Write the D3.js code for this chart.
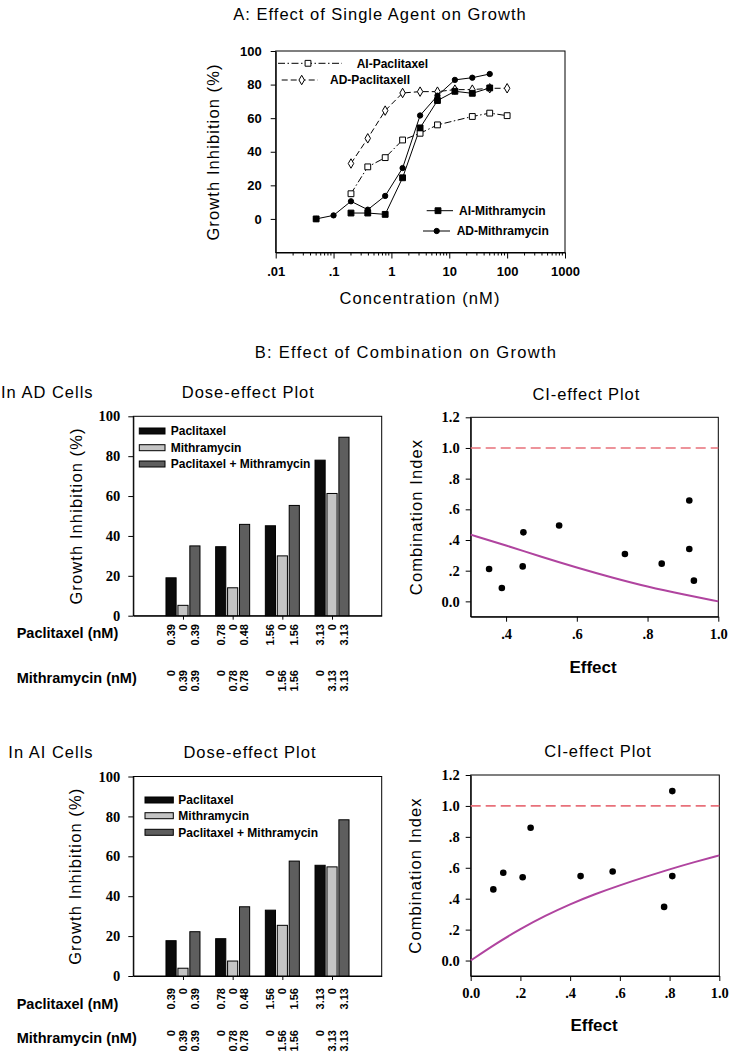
<!DOCTYPE html>
<html><head><meta charset="utf-8">
<script src="https://cdn.jsdelivr.net/npm/d3@7"></script>
<style>
body{margin:0;background:#fff;}
svg{display:block;}
</style></head><body>
<svg id="c" width="729" height="1054"></svg>
<script>
// ---------------- DATA ----------------
// Panel A: single agent (concentration nM -> growth inhibition %)
const concAIPac = [0.2, 0.39, 0.78, 1.56, 3.13, 6.25, 25, 50, 100];
const valAIPac  = [15, 31, 36.5, 47, 51, 56, 61, 63, 61.5];
const concADPac = [0.2, 0.39, 0.78, 1.56, 3.13, 6.25, 12.5, 25, 50, 100];
const valADPac  = [33, 48, 64.5, 75, 75.8, 75.8, 77, 77, 77.8, 77.8];
const concAIMit = [0.05, 0.1, 0.2, 0.39, 0.78, 1.56, 3.13, 6.25, 12.5, 25, 50];
const valAIMit  = [0, null, 3.5, 3.5, 2.7, 24.5, 54.2, 70.5, 76, 74.8, 78];
const concADMit = [0.05, 0.1, 0.2, 0.39, 0.78, 1.56, 3.13, 6.25, 12.5, 25, 50];
const valADMit  = [0, 2.1, 10.5, 5.5, 13.7, 30.3, 61.6, 73.4, 82.8, 84.1, 86.3];
const yTicksA = [0, 20, 40, 60, 80, 100];
const xTicksA = [0.01, 0.1, 1, 10, 100, 1000];
const xTickLabelsA = [".01", ".1", "1", "10", "100", "1000"];

// Panel B: combination dose-effect bars
const groups = ["g1", "g2", "g3", "g4"];
const seriesNames = ["Paclitaxel", "Mithramycin", "Paclitaxel + Mithramycin"];
const adPac   = [19, 34.6, 45.1, 78];
const adMit   = [5.2, 14, 30, 61.3];
const adCombo = [35, 45.8, 55.3, 89.5];
const aiPac   = [17.7, 18.7, 33, 55.5];
const aiMit   = [3.9, 7.5, 25.4, 54.7];
const aiCombo = [22.2, 34.7, 57.6, 78.3];
const pacDoseLabels = [["0.39","0","0.39"],["0.78","0","0.48"],["1.56","0","1.56"],["3.13","0","3.13"]];
const mitDoseLabels = [["0","0.39","0.39"],["0","0.78","0.78"],["0","1.56","1.56"],["0","3.13","3.13"]];
const yTicksDose = [0, 20, 40, 60, 80, 100];

// CI-effect data
const adEffect = [0.352, 0.388, 0.449, 0.447, 0.55, 0.736, 0.84, 0.918, 0.931, 0.918];
const adCI     = [0.211, 0.087, 0.45, 0.228, 0.495, 0.309, 0.246, 0.341, 0.135, 0.658];
const adCurveEffect = [0.3, 0.4, 0.5, 0.6, 0.7, 0.8, 0.9, 1.0];
const adCurveCI     = [0.435, 0.365, 0.29, 0.22, 0.155, 0.095, 0.045, 0.0];
const aiEffect = [0.091, 0.131, 0.209, 0.241, 0.442, 0.571, 0.778, 0.811, 0.811];
const aiCI     = [0.46, 0.568, 0.539, 0.859, 0.546, 0.576, 0.347, 0.546, 1.096];
const aiCurveEffect = [0, 0.1, 0.2, 0.3, 0.4, 0.5, 0.6, 0.7, 0.8, 0.9, 1.0];
const aiCurveCI     = [0, 0.108, 0.205, 0.29, 0.365, 0.43, 0.487, 0.54, 0.59, 0.637, 0.68];
const ciYTicks = [0, 0.2, 0.4, 0.6, 0.8, 1.0, 1.2];
const ciYTickLabels = ["0.0", ".2", ".4", ".6", ".8", "1.0", "1.2"];
const adXTicks = [0.4, 0.6, 0.8, 1.0];
const adXTickLabels = [".4", ".6", ".8", "1.0"];
const aiXTicks = [0, 0.2, 0.4, 0.6, 0.8, 1.0];
const aiXTickLabels = ["0.0", ".2", ".4", ".6", ".8", "1.0"];

// ---------------- DRAWING ----------------
const svg = d3.select("#c");
const SANS = "'Liberation Sans', Arial, sans-serif";
const SERIF = "'Liberation Serif', 'Times New Roman', serif";

function addText(g, x, y, str, o = {}) {
  const t = g.append("text")
    .attr("transform", `translate(${x},${y})` + (o.rotate ? ` rotate(${o.rotate})` : ""))
    .attr("font-size", o.size || 12)
    .attr("font-weight", o.weight || "normal")
    .attr("font-family", o.family || SANS)
    .attr("text-anchor", o.anchor || "start")
    .attr("fill", "#000")
    .text(str);
  if (o.ls) t.attr("letter-spacing", o.ls);
  if (o.dy) t.attr("dy", o.dy);
  return t;
}
function frame(g, x0, x1, y0, y1) {
  g.append("rect").attr("x", x0).attr("y", y0).attr("width", x1 - x0).attr("height", y1 - y0)
    .attr("fill", "none").attr("stroke", "#000").attr("stroke-width", 1);
}
function styleAxis(sel, family, size) {
  sel.select(".domain").attr("stroke", "#000");
  sel.selectAll(".tick line").attr("stroke", "#000");
  sel.selectAll(".tick text").attr("font-family", family).attr("font-size", size)
    .attr("font-weight", "bold").attr("fill", "#000");
}

// ===== Panel A =====
(function () {
  const g = svg.append("g");
  const x = d3.scaleLog().domain([0.01, 1000]).range([275.7, 565]);
  const y = d3.scaleLinear().domain([-20, 100]).range([252.5, 51]);
  frame(g, x.range()[0], x.range()[1], y.range()[1], y.range()[0]);

  const ya = g.append("g").attr("transform", `translate(${x.range()[0]},0)`)
    .call(d3.axisLeft(y).tickValues(yTicksA).tickSize(5).tickSizeOuter(0).tickPadding(9));
  styleAxis(ya, SANS, 13);

  const xa = g.append("g").attr("transform", `translate(0,${y.range()[0]})`)
    .call(d3.axisBottom(x).tickValues(xTicksA).tickSize(6).tickSizeOuter(0).tickPadding(8)
      .tickFormat((d, i) => xTickLabelsA[i]));
  styleAxis(xa, SANS, 13);
  const minor = x.ticks().filter(v => Math.abs(Math.log10(v) - Math.round(Math.log10(v))) > 1e-6);
  g.append("g").selectAll("line").data(minor).join("line")
    .attr("x1", d => x(d)).attr("x2", d => x(d))
    .attr("y1", y.range()[0]).attr("y2", y.range()[0] + 3).attr("stroke", "#000");

  const series = [
    { c: concAIPac, v: valAIPac, dash: "7,2.5,1.5,2.5", sym: "sq", fill: "#fff" },
    { c: concADPac, v: valADPac, dash: "6,3", sym: "dia", fill: "#fff" },
    { c: concAIMit, v: valAIMit, dash: null, sym: "sq", fill: "#000" },
    { c: concADMit, v: valADMit, dash: null, sym: "circ", fill: "#000" }
  ];
  function marker(sel, s) {
    if (s.sym === "sq") return sel.append("path").attr("d", d3.symbol(d3.symbolSquare, 34)());
    if (s.sym === "dia") return sel.append("path").attr("d", d3.symbol(d3.symbolDiamond, 26)());
    return sel.append("path").attr("d", d3.symbol(d3.symbolCircle, 22)());
  }
  series.forEach(s => {
    const pts = s.c.map((c, i) => ({ c, v: s.v[i] }));
    const line = d3.line().defined(d => d.v !== null).x(d => x(d.c)).y(d => y(d.v));
    g.append("path").datum(pts).attr("d", line).attr("fill", "none").attr("stroke", "#000")
      .attr("stroke-width", 1).attr("stroke-dasharray", s.dash);
  });
  series.forEach(s => {
    s.c.forEach((c, i) => {
      if (s.v[i] === null) return;
      const mg = g.append("g").attr("transform", `translate(${x(c)},${y(s.v[i])})`);
      marker(mg, s).attr("fill", s.fill).attr("stroke", "#000").attr("stroke-width", 1);
    });
  });

  // legends
  const legs = [
    { s: series[0], x0: 278, x1: 342, mx: 308, y: 63.3, tx: 356.7, label: "AI-Paclitaxel" },
    { s: series[1], x0: 281.7, x1: 318, mx: 301.7, y: 80, tx: 330, label: "AD-Paclitaxell" },
    { s: series[2], x0: 426.7, x1: 453, mx: 438, y: 210.7, tx: 459, label: "AI-Mithramycin" },
    { s: series[3], x0: 423, x1: 450, mx: 436.7, y: 231, tx: 456.7, label: "AD-Mithramycin" }
  ];
  legs.forEach(l => {
    g.append("line").attr("x1", l.x0).attr("x2", l.x1).attr("y1", l.y).attr("y2", l.y)
      .attr("stroke", "#000").attr("stroke-dasharray", l.s.dash);
    const mg = g.append("g").attr("transform", `translate(${l.mx},${l.y})`);
    marker(mg, l.s).attr("fill", l.s.fill).attr("stroke", "#000");
    addText(g, l.tx, l.y, l.label, { size: 12, weight: "bold", dy: "0.35em" });
  });

  addText(g, 380, 19.5, "A: Effect of Single Agent on Growth", { size: 16.5, anchor: "middle", ls: 1.0 });
  addText(g, 213, 152, "Growth Inhibition (%)", { size: 16.5, anchor: "middle", rotate: -90, dy: "0.35em", ls: 1.1 });
  addText(g, 420, 304, "Concentration (nM)", { size: 16.5, anchor: "middle", ls: 1.1 });
})();

addText(svg, 406, 358, "B: Effect of Combination on Growth", { size: 16.5, anchor: "middle", ls: 1.3 });

// ===== Dose-effect plots =====
const barColors = ["#0b0b0b", "#c4c4c4", "#5e5e5e"];
function dosePlot(o) {
  const g = svg.append("g");
  const x = d3.scalePoint().domain(groups).range([o.left, o.right]).padding(1);
  const y = d3.scaleLinear().domain([0, 100]).range([o.bottom, o.top]);
  const sub = d3.scaleBand().domain(seriesNames).range([-17, 17]).paddingInner(0.15);
  frame(g, o.left, o.right, o.top, o.bottom);
  const ya = g.append("g").attr("transform", `translate(${o.left},0)`)
    .call(d3.axisLeft(y).tickValues(yTicksDose).tickSize(5).tickSizeOuter(0).tickPadding(8));
  styleAxis(ya, SERIF, 14.5);
  const xa = g.append("g").attr("transform", `translate(0,${o.bottom})`)
    .call(d3.axisBottom(x).tickSize(4).tickSizeOuter(0).tickFormat(""));
  styleAxis(xa, SANS, 11);

  const vals = [o.pac, o.mit, o.combo];
  seriesNames.forEach((s, si) => {
    g.append("g").selectAll("rect").data(groups).join("rect")
      .attr("x", d => x(d) + sub(s))
      .attr("y", (d, i) => y(vals[si][i]))
      .attr("width", sub.bandwidth())
      .attr("height", (d, i) => y(0) - y(vals[si][i]))
      .attr("fill", barColors[si]).attr("stroke", "#000").attr("stroke-width", 1);
  });
  // legend
  seriesNames.forEach((s, si) => {
    g.append("rect").attr("x", o.legX).attr("y", o.legY[si] - 3).attr("width", o.legW).attr("height", 6)
      .attr("fill", barColors[si]).attr("stroke", "#000").attr("stroke-width", 1);
    addText(g, o.legTX, o.legY[si], s, { size: 12, weight: "bold", dy: "0.35em" });
  });
  // dose labels
  groups.forEach((gr, gi) => {
    seriesNames.forEach((s, si) => {
      const cx = x(gr) + sub(s) + sub.bandwidth() / 2;
      addText(g, cx, o.pacY, pacDoseLabels[gi][si], { size: 11, weight: "bold", anchor: "end", rotate: -90, dy: "0.35em" });
      addText(g, cx, o.mitY, mitDoseLabels[gi][si], { size: 11, weight: "bold", anchor: "end", rotate: -90, dy: "0.35em" });
    });
  });
  addText(g, 16.7, o.pacLabY, "Paclitaxel (nM)", { size: 14.5, weight: "bold" });
  addText(g, 16.7, o.mitLabY, "Mithramycin (nM)", { size: 14.5, weight: "bold" });
  addText(g, o.yLabX, (o.top + o.bottom) / 2, "Growth Inhibition (%)", { size: 16.5, anchor: "middle", rotate: -90, dy: "0.35em", ls: 1.1 });
  addText(g, o.cellX, o.titleY, o.cell, { size: 16.5, ls: 1.0 });
  addText(g, o.titleX, o.titleY, "Dose-effect Plot", { size: 16.5, anchor: "middle", ls: 1.0 });
}
dosePlot({ left: 133.3, right: 381.7, top: 416.3, bottom: 615.7, pac: adPac, mit: adMit, combo: adCombo,
  legX: 139.3, legW: 25.7, legTX: 170.7, legY: [431, 447.7, 464], pacY: 624, mitY: 670,
  pacLabY: 638.3, mitLabY: 683, yLabX: 76, cell: "In AD Cells", cellX: 1, titleX: 248.3, titleY: 398 });
dosePlot({ left: 133.3, right: 381.7, top: 776.5, bottom: 976, pac: aiPac, mit: aiMit, combo: aiCombo,
  legX: 145, legW: 28.3, legTX: 178.3, legY: [800, 815.7, 832.3], pacY: 988, mitY: 1030,
  pacLabY: 1009.3, mitLabY: 1043, yLabX: 75, cell: "In AI Cells", cellX: 8.3, titleX: 250, titleY: 758 });

// ===== CI-effect plots =====
function ciPlot(o) {
  const g = svg.append("g");
  const x = d3.scaleLinear().domain(o.xDomain).range([o.left, o.right]);
  const y = d3.scaleLinear().domain([-0.1, 1.2]).range([o.bottom, o.top]);
  frame(g, o.left, o.right, o.top, o.bottom);
  const ya = g.append("g").attr("transform", `translate(${o.left},0)`)
    .call(d3.axisLeft(y).tickValues(ciYTicks).tickSize(5).tickSizeOuter(0).tickPadding(6)
      .tickFormat((d, i) => ciYTickLabels[i]));
  styleAxis(ya, SERIF, 14.5);
  const xa = g.append("g").attr("transform", `translate(0,${o.bottom})`)
    .call(d3.axisBottom(x).tickValues(o.xTicks).tickSize(5).tickSizeOuter(0).tickPadding(7)
      .tickFormat((d, i) => o.xLabels[i]));
  styleAxis(xa, SERIF, 14.5);
  g.append("line").attr("x1", o.left).attr("x2", o.right).attr("y1", y(1)).attr("y2", y(1))
    .attr("stroke", "#e8707a").attr("stroke-width", 1.6).attr("stroke-dasharray", "10,5");
  const pts = o.curveX.map((c, i) => [c, o.curveY[i]]);
  g.append("path").datum(pts)
    .attr("d", d3.line().curve(d3.curveBasis).x(d => x(d[0])).y(d => y(d[1])))
    .attr("fill", "none").attr("stroke", "#b0449f").attr("stroke-width", 2);
  g.append("g").selectAll("circle").data(o.ex).join("circle")
    .attr("cx", d => x(d)).attr("cy", (d, i) => y(o.ci[i])).attr("r", 3.3).attr("fill", "#000");
  addText(g, o.titleX, o.titleY, "CI-effect Plot", { size: 16.5, anchor: "middle", ls: 0.9 });
  addText(g, o.yLabX, (o.top + o.bottom) / 2, "Combination Index", { size: 16.5, anchor: "middle", rotate: -90, dy: "0.35em", ls: 1.1 });
  addText(g, o.effX, o.effY, "Effect", { size: 17, weight: "bold", anchor: "middle" });
}
ciPlot({ left: 470.7, right: 718.3, top: 417.3, bottom: 616.7, xDomain: [0.3, 1.0], xTicks: adXTicks, xLabels: adXTickLabels,
  curveX: adCurveEffect, curveY: adCurveCI, ex: adEffect, ci: adCI, titleX: 586.3, titleY: 399.5,
  yLabX: 415.8, effX: 593, effY: 673 });
ciPlot({ left: 470.7, right: 719.3, top: 775, bottom: 976, xDomain: [0, 1.0], xTicks: aiXTicks, xLabels: aiXTickLabels,
  curveX: aiCurveEffect, curveY: aiCurveCI, ex: aiEffect, ci: aiCI, titleX: 598, titleY: 757,
  yLabX: 415, effX: 594, effY: 1031 });
</script>
</body></html>
